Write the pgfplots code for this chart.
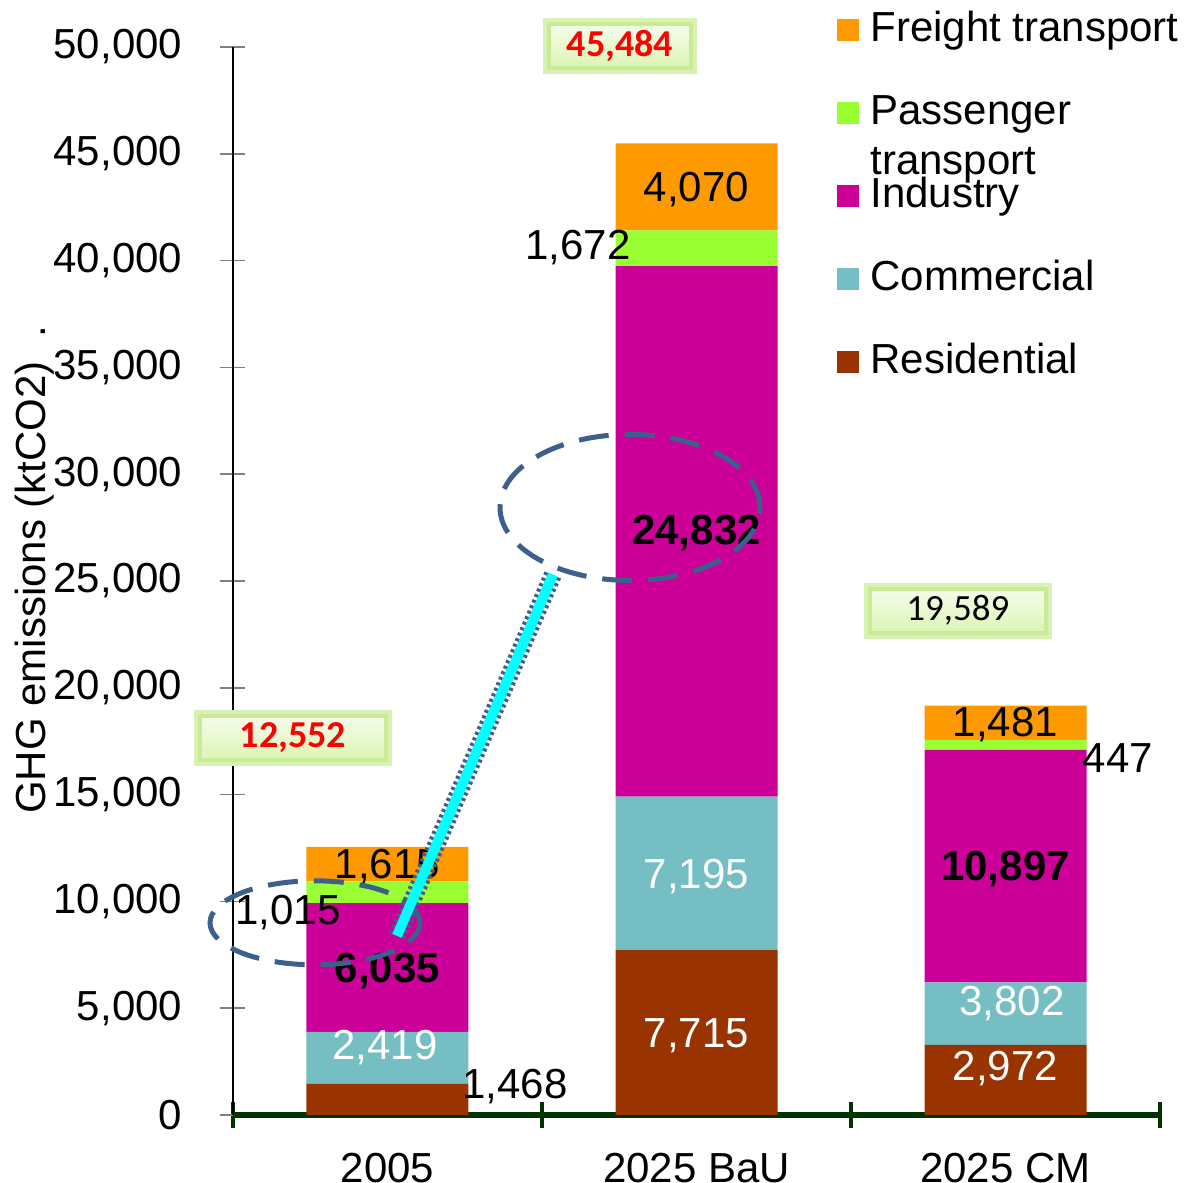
\documentclass[border=0pt]{standalone}
\usepackage{pgfplots}
\pgfplotsset{compat=1.18}
\usepackage{fontspec}
\setmainfont{Liberation Sans}
\newfontfamily\calibri{Carlito}
\definecolor{freight}{HTML}{FF9900}
\definecolor{passenger}{HTML}{99FF33}
\definecolor{industry}{HTML}{CC0099}
\definecolor{commercial}{HTML}{75BEC3}
\definecolor{residential}{HTML}{993300}
\definecolor{axgreen}{HTML}{003300}
\definecolor{ellblue}{HTML}{3C5F8C}
\definecolor{glow}{HTML}{C8EB96}
\definecolor{boxtop}{HTML}{F5FCEB}
\definecolor{boxbot}{HTML}{DCF5B4}
\definecolor{arrowcyan}{HTML}{00FFFF}
\begin{document}
\begin{tikzpicture}[
  lbl/.style={font=\fontsize{21}{25}\selectfont, inner sep=0pt},
  blbl/.style={font=\fontsize{21}{25}\selectfont\bfseries, inner sep=0pt},
  totbox/.style={draw=glow, line width=2pt, top color=boxtop, bottom color=boxbot,
     minimum width=#1, minimum height=22pt, inner sep=0pt,
     preaction={draw=glow!70, line width=6pt}},
  ell/.style={draw=ellblue, line width=2.5pt, dash pattern=on 15pt off 8pt}
]
\path[use as bounding box] (-116.5pt,-34pt) rectangle (475.5pt,557.5pt);
\begin{axis}[
  at={(0,0)}, anchor=south west,
  scale only axis, width=463.5pt, height=534pt,
  xmin=-0.5, xmax=2.5, ymin=0, ymax=50000,
  ybar stacked, bar width=81pt,
  clip=false,
  axis x line=bottom, axis y line=left,
  x axis line style={-, draw=axgreen, line width=3pt},
  y axis line style={-, draw=black, line width=0.6pt},
  tick align=center, major tick length=12.5pt,
  xtick={-0.5,0.5,1.5,2.5}, xticklabels={},
  x tick style={draw=axgreen, line width=2pt},
  extra x ticks={0,1,2},
  extra x tick labels={2005,2025 BaU,2025 CM},
  extra x tick style={major tick length=0pt,
     xticklabel style={inner sep=0pt, text height=15pt, text depth=0pt, yshift=-18.5pt}},
  ytick={0,5000,...,50000},
  y tick style={draw=gray, line width=0.8pt},
  scaled y ticks=false,
  /pgf/number format/1000 sep={,},
  /pgf/number format/assume math mode=true,
  yticklabel style={inner sep=0pt, xshift=-19pt},
  tick label style={font=\fontsize{21}{25}\selectfont},
  ylabel={GHG emissions (ktCO2)\rlap{\ \ .}},
  ylabel style={at={(axis description cs:-0.2136,0.494)}, anchor=center,
     font=\fontsize{21}{25}\selectfont, inner sep=0pt},
  legend image code/.code={\fill[#1] (0pt,-5.5pt) rectangle (11pt,5.5pt); \path (16.5pt,0pt);},
  reverse legend,
  legend cell align=left,
  legend style={at={(rel axis cs:0.6516,1.0371)}, anchor=north west,
     draw=none, fill=none, inner sep=0pt, row sep=19.5pt,
     font=\fontsize{21}{25}\selectfont,
     nodes={inner sep=0pt, text height=17pt, text depth=5pt}},
  after end axis/.append code={
    % data labels 2005
    \node[lbl] at (axis cs:0.4126,1312) {1,468};
    \node[lbl, text=white] at (axis cs:-0.008,3140) {2,419};
    \node[blbl] at (axis cs:0,6748) {6,035};
    \node[lbl] at (axis cs:-0.322,9466) {1,015};
    \node[lbl] at (axis cs:0,11622) {1,615};
    % 2025 BaU
    \node[lbl, text=white] at (axis cs:1,3702) {7,715};
    \node[lbl, text=white] at (axis cs:1,11153) {7,195};
    \node[blbl] at (axis cs:1,27226) {24,832};
    \node[lbl] at (axis cs:0.6165,40628) {1,672};
    \node[lbl] at (axis cs:1,43346) {4,070};
    % 2025 CM
    \node[lbl, text=white] at (axis cs:2,2156) {2,972};
    \node[lbl, text=white] at (axis cs:2.021,5201) {3,802};
    \node[blbl] at (axis cs:2,11528) {10,897};
    \node[lbl] at (axis cs:2.364,16729) {447};
    \node[lbl] at (axis cs:2,18276) {1,481};
    % totals
    \node[totbox=93pt, font=\calibri\bfseries\fontsize{19}{22}\selectfont, text=red] at (axis cs:-0.306,17666) {12,552};
    \node[totbox=71pt, font=\calibri\bfseries\fontsize{19}{22}\selectfont, text=red] at (axis cs:0.7524,50047) {45,484};
    \node[totbox=88pt, font=\calibri\fontsize{18.5}{22}\selectfont] at (axis cs:1.846,23618) {19,589};
    % ellipses
    \draw[ell] (axis cs:-0.2346,8997) ellipse [x radius=52.5pt, y radius=21pt];
    \draw[ell] (axis cs:0.7848,28444) ellipse [x radius=65pt, y radius=36.5pt];
    % arrow
    \draw[arrowcyan, line width=5pt,
      preaction={draw=ellblue, line width=9pt, dash pattern=on 1.5pt off 1.5pt}]
      (axis cs:0.0307,8388) -- (axis cs:0.5356,25304);
  },
]
\addplot[fill=residential, draw=none] coordinates {(0,1468) (1,7715) (2,3278)};
\addplot[fill=commercial, draw=none] coordinates {(0,2419) (1,7195) (2,2936)};
\addplot[fill=industry, draw=none] coordinates {(0,6035) (1,24832) (2,10879)};
\addplot[fill=passenger, draw=none] coordinates {(0,1015) (1,1672) (2,468)};
\addplot[fill=freight, draw=none] coordinates {(0,1615) (1,4070) (2,1606)};
\legend{Residential, Commercial, Industry,
  {\smash{\rlap{\raisebox{-25pt}{transport}}}Passenger}, Freight transport}
\end{axis}
\end{tikzpicture}
\end{document}
